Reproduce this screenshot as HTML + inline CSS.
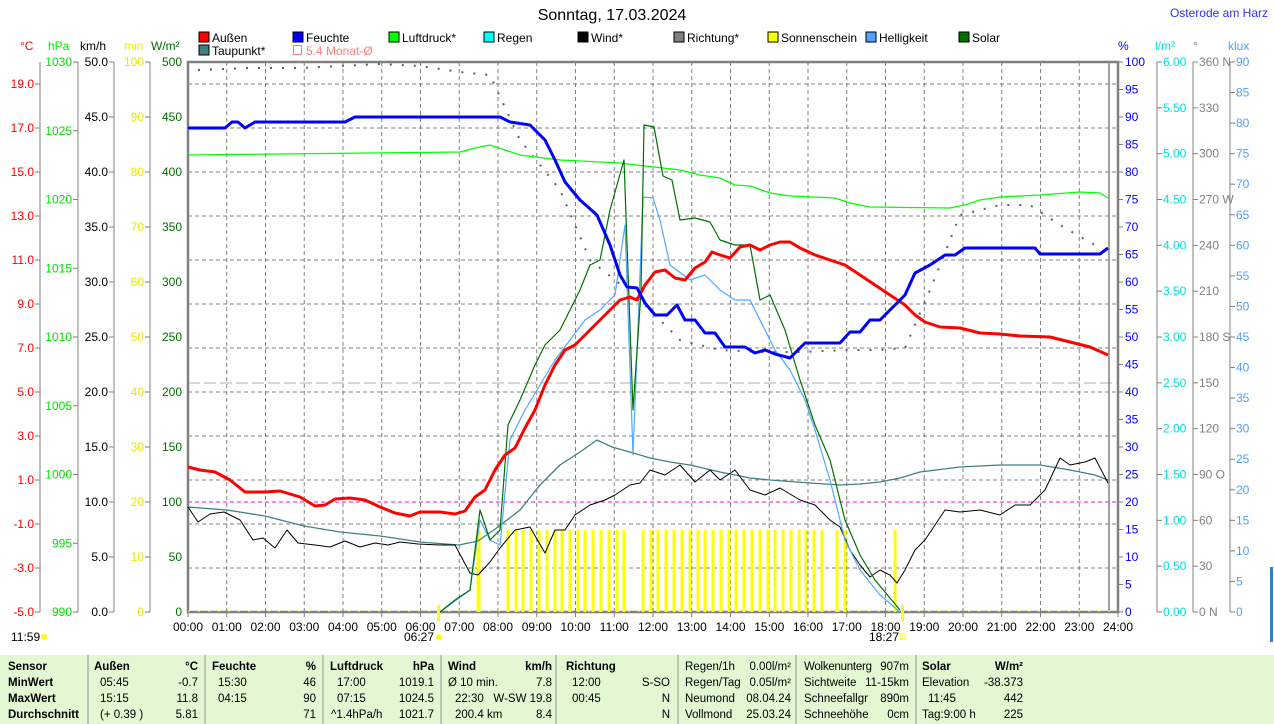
<!DOCTYPE html>
<html><head><meta charset="utf-8"><style>
html,body{margin:0;padding:0;background:#fff;width:1274px;height:724px;overflow:hidden}
svg{display:block;font-family:"Liberation Sans",sans-serif}
</style></head><body>
<svg id="s" width="1274" height="724" xmlns="http://www.w3.org/2000/svg">
<rect x="0" y="655" width="1274" height="69" fill="#e2f8d2"/>
<g id="g"></g>
<text x="612" y="20" font-size="16" text-anchor="middle" fill="#000">Sonntag, 17.03.2024</text>
<text x="1268" y="17" font-size="12" text-anchor="end" fill="#3030ff">Osterode am Harz</text>
<g font-size="12">
<text x="20" y="50" fill="#ff0000">°C</text><text x="48" y="50" fill="#00ee00">hPa</text><text x="80" y="50" fill="#000">km/h</text><text x="124" y="50" fill="#eeee00">min</text><text x="151" y="50" fill="#007000">W/m²</text>
<text x="1118" y="50" fill="#0000ff">%</text><text x="1155" y="50" fill="#00e0e0">l/m²</text><text x="1193" y="50" fill="#808080">°</text><text x="1228" y="50" fill="#50a0ff">klux</text>
</g>
<g font-size="12" fill="#000">
<rect x="199" y="32" width="10" height="10" fill="#ff0000" stroke="#000"/><text x="212" y="42">Außen</text>
<rect x="293" y="32" width="10" height="10" fill="#0000ff" stroke="#000"/><text x="306" y="42">Feuchte</text>
<rect x="389" y="32" width="10" height="10" fill="#00ff00" stroke="#000"/><text x="402" y="42">Luftdruck*</text>
<rect x="484" y="32" width="10" height="10" fill="#00ffff" stroke="#000"/><text x="497" y="42">Regen</text>
<rect x="578" y="32" width="10" height="10" fill="#000" stroke="#000"/><text x="591" y="42">Wind*</text>
<rect x="674" y="32" width="10" height="10" fill="#808080" stroke="#000"/><text x="687" y="42">Richtung*</text>
<rect x="768" y="32" width="10" height="10" fill="#ffff00" stroke="#000"/><text x="781" y="42">Sonnenschein</text>
<rect x="866" y="32" width="10" height="10" fill="#50a0ff" stroke="#000"/><text x="879" y="42">Helligkeit</text>
<rect x="959" y="32" width="10" height="10" fill="#007000" stroke="#000"/><text x="972" y="42">Solar</text>
<rect x="199" y="45" width="10" height="10" fill="#408080" stroke="#000"/><text x="212" y="55">Taupunkt*</text>
<rect x="293.5" y="45.5" width="8" height="9" fill="none" stroke="#ff8080"/><text x="306" y="55" fill="#ff8080">5.4 Monat-Ø</text>
</g>
</svg>
<script>
const NS="http://www.w3.org/2000/svg",g=document.getElementById('g');
function el(t,a,txt){const e=document.createElementNS(NS,t);for(const k in a)e.setAttribute(k,a[k]);if(txt!==undefined)e.textContent=txt;g.appendChild(e);return e;}
const X0=188,X1=1118,T=62,B=612,hw=(X1-X0)/24;
for(let y=84;y<=568;y+=44)el('line',{x1:X0,x2:X1,y1:y,y2:y,stroke:'#808080','stroke-dasharray':'4,3'});
for(let h=1;h<24;h++){const x=X0+h*hw;el('line',{x1:x,x2:x,y1:T,y2:B,stroke:'#808080','stroke-dasharray':'4,3'});}
el('line',{x1:X0,x2:X1,y1:383,y2:383,stroke:'#b0b0b0','stroke-dasharray':'12,4'});
el('line',{x1:X0,x2:X1,y1:502,y2:502,stroke:'#ff00ff','stroke-dasharray':'4,3'});
el('line',{x1:1109,x2:1109,y1:T,y2:B,stroke:'#808080','stroke-width':1.5});
for(let h=0;h<=24;h++){const x=X0+h*hw;el('line',{x1:x,x2:x,y1:B,y2:B+5,stroke:'#808080'});el('text',{x:x,y:631,'font-size':12,'text-anchor':'middle'},(h<10?'0':'')+h+':00');}
function axis(lx,y0,y1,n,fmt,col){el('line',{x1:lx,x2:lx,y1:y0,y2:y1,stroke:'#808080'});for(let i=0;i<=n;i++){const y=y0+(y1-y0)*i/n;el('line',{x1:lx-5,x2:lx,y1:y,y2:y,stroke:'#808080'});el('text',{x:lx-6,y:y+4,'font-size':12,'text-anchor':'end',fill:col},fmt(i));}}
el('line',{x1:40,x2:40,y1:T,y2:B,stroke:'#808080'});
for(let v=-5;v<=19;v+=2){const y=612-(v+5)*22;el('line',{x1:35,x2:40,y1:y,y2:y,stroke:'#808080'});el('text',{x:34,y:y+4,'font-size':12,'text-anchor':'end',fill:'#ff0000'},v.toFixed(1));}
axis(78,T,B,8,i=>String(1030-5*i),'#00dd00');
axis(114,T,B,10,i=>(50-5*i).toFixed(1),'#000');
axis(150,T,B,10,i=>String(100-10*i),'#e8e800');
for(let i=0;i<=10;i++){const y=T+55*i;el('text',{x:182,y:y+4,'font-size':12,'text-anchor':'end',fill:'#007000'},String(500-50*i));}
function raxis(lx,n,fmt,col){el('line',{x1:lx,x2:lx,y1:T,y2:B,stroke:'#808080'});for(let i=0;i<=n;i++){const y=T+(B-T)*i/n;el('line',{x1:lx,x2:lx+5,y1:y,y2:y,stroke:'#808080'});el('text',{x:lx+6,y:y+4,'font-size':12,fill:col},fmt(i));}}
for(let i=0;i<=20;i++){const y=T+27.5*i;el('line',{x1:X1,x2:X1+5,y1:y,y2:y,stroke:'#808080'});el('text',{x:1125,y:y+4,'font-size':12,fill:'#0000ff'},String(100-5*i));}
raxis(1157,12,i=>(6-0.5*i).toFixed(2),'#00e0e0');
const dir={0:' N',3:' W',6:' S',9:' O',12:' N'};
raxis(1193,12,i=>String(360-30*i)+(dir[i]||''),'#808080');
raxis(1230,18,i=>String(90-5*i),'#50a0ff');
el('rect',{x:X0,y:T,width:X1-X0,height:B-T,fill:'none',stroke:'#808080','stroke-width':2.5});
el('rect',{x:1270,y:567,width:3,height:75,fill:'#3080d0'});
el('line',{x1:X0,x2:X1,y1:B-1,y2:B-1,stroke:'#ffff00','stroke-dasharray':'2,8'});
const bars=[508,516,523,531,539,547,555,562,570,578,585,593,601,609,617,624,643,651,658,666,674,682,690,698,705,713,721,729,736,744,752,760,768,775,783,791,799,806,814,822,837,845];
bars.forEach(x=>el('rect',{x:x-1.5,y:530,width:3,height:82,fill:'#ffff00'}));
el('rect',{x:476.5,y:530,width:4,height:82,fill:'#ffff00'});
el('rect',{x:893.5,y:530,width:3,height:82,fill:'#ffff00'});
el('rect',{x:437,y:605,width:3,height:16,fill:'#ffff00'});
el('rect',{x:901,y:605,width:3,height:16,fill:'#ffff00'});
function pl(pts,col,w,extra){const a={points:pts.map(p=>p.join(',')).join(' '),fill:'none',stroke:col,'stroke-width':w,'stroke-linejoin':'round'};Object.assign(a,extra||{});el('polyline',a);}
pl([[198,70],[250,68],[300,68],[380,64],[420,66],[460,72],[490,75],[520,140],[560,190],[590,260],[640,300],[680,340],[720,350],[760,352],[800,352],[850,350],[880,350],[905,348],[930,290],[960,215],[1000,205],[1030,205],[1060,225],[1100,248]],'#606060',2,{'stroke-dasharray':'2,10'});
pl([[188,155],[280,154],[460,152],[475,148],[490,145],[505,150],[520,155],[560,160],[620,163],[680,170],[700,175],[720,178],[735,185],[750,186],[770,193],[790,196],[835,198],[850,203],[870,207],[950,208],[965,205],[980,200],[1000,197],[1040,195],[1080,192],[1100,193],[1108,198]],'#00ff00',1.3);
pl([[188,507],[227,510],[265,516],[304,526],[340,532],[380,536],[420,542],[459,545],[478,541],[498,527],[520,510],[540,485],[560,465],[580,452],[597,440],[612,447],[630,452],[650,458],[670,462],[690,465],[720,472],[750,478],[770,480],[810,483],[840,485],[860,484],[880,482],[900,478],[920,472],[960,467],[1000,465],[1040,465],[1070,470],[1095,475],[1108,480]],'#408080',1.3);
pl([[188,507],[198,522],[210,514],[224,512],[240,520],[253,540],[263,538],[275,548],[287,530],[298,543],[315,545],[330,547],[345,541],[360,547],[375,543],[388,545],[400,542],[418,544],[440,545],[455,545],[470,573],[478,575],[490,562],[500,548],[515,530],[530,527],[545,553],[555,530],[565,530],[575,515],[590,505],[605,500],[615,495],[630,485],[640,483],[650,470],[665,475],[680,465],[695,482],[710,470],[720,480],[735,470],[750,490],[765,495],[780,488],[800,500],[815,505],[830,520],[840,527],[850,550],[860,565],[870,577],[880,570],[890,575],[897,583],[905,570],[915,550],[925,540],[935,525],[945,510],[960,512],[980,510],[1000,515],[1015,505],[1030,505],[1045,490],[1060,458],[1070,465],[1085,462],[1095,458],[1108,483]],'#000',1);
pl([[440,612],[470,590],[480,520],[490,540],[500,545],[510,440],[525,410],[540,385],[555,360],[570,340],[585,320],[600,310],[615,295],[625,225],[633,455],[643,197],[653,198],[660,220],[670,265],[690,280],[705,275],[720,290],[735,300],[750,300],[765,330],[775,350],[790,370],[805,400],[815,430],[830,480],[845,540],[860,570],[880,595],[900,612]],'#50a8ff',1.2);
pl([[440,612],[455,600],[470,590],[480,510],[490,540],[500,530],[508,425],[520,400],[535,365],[545,345],[560,330],[570,310],[580,290],[590,265],[600,260],[610,210],[624,160],[633,410],[641,292],[644,125],[654,127],[663,176],[672,180],[680,220],[695,218],[710,222],[720,240],[735,245],[750,245],[760,300],[770,295],[785,330],[800,380],[815,425],[830,460],[845,520],[860,555],[875,580],[890,598],[900,610]],'#007000',1.2);
pl([[188,467],[200,470],[215,472],[230,480],[245,492],[265,492],[280,491],[300,497],[315,506],[325,505],[335,499],[350,498],[365,500],[380,507],[395,513],[410,516],[420,512],[440,512],[455,514],[465,511],[475,497],[485,490],[495,470],[505,455],[515,448],[525,428],[535,410],[545,385],[555,365],[565,350],[575,345],[590,330],[605,315],[620,300],[630,297],[637,300],[645,285],[655,272],[665,270],[675,278],[685,280],[695,268],[705,262],[712,252],[720,255],[730,258],[740,247],[750,245],[760,250],[770,245],[780,242],[790,242],[800,248],[815,255],[830,260],[845,265],[860,275],[875,285],[890,295],[905,305],[915,315],[925,322],[940,327],[960,328],[980,333],[1000,334],[1020,336],[1050,337],[1070,342],[1090,347],[1108,355]],'#ff0000',3);
pl([[188,128],[225,128],[232,122],[238,122],[245,128],[255,122],[345,122],[355,117],[500,117],[510,122],[530,125],[545,140],[555,160],[565,182],[580,200],[597,215],[610,245],[620,275],[627,287],[637,288],[645,303],[655,315],[667,315],[677,305],[685,320],[695,320],[705,333],[715,333],[725,347],[745,347],[755,353],[765,350],[775,354],[790,358],[805,343],[840,343],[850,332],[860,332],[870,320],[880,320],[895,305],[905,295],[915,273],[930,265],[945,255],[955,255],[965,248],[1035,248],[1040,254],[1100,254],[1108,248]],'#0000ff',3);
el('text',{x:11,y:641,'font-size':12},'11:59');el('circle',{cx:44,cy:637,r:3,fill:'#ffff00'});
el('text',{x:404,y:641,'font-size':12},'06:27');el('circle',{cx:439,cy:637,r:3,fill:'#ffff00'});
el('text',{x:869,y:641,'font-size':12},'18:27');el('rect',{x:900,y:634,width:5,height:5,fill:'none',stroke:'#ffff00'});
[88,205,323,441,556,678,796,916].forEach(x=>el('line',{x1:x,x2:x,y1:655,y2:724,stroke:'#909090'}));
function t(x,y,s,opt){const a={x:x,y:y,'font-size':11.5};Object.assign(a,opt||{});el('text',a,s);}
const R={'text-anchor':'end'},Bo={'font-weight':'bold'},BR={'font-weight':'bold','text-anchor':'end'};
const ys=[670,686,702,718];
t(8,ys[0],'Sensor',Bo);t(8,ys[1],'MinWert',Bo);t(8,ys[2],'MaxWert',Bo);t(8,ys[3],'Durchschnitt',Bo);
t(94,ys[0],'Außen',Bo);t(198,ys[0],'°C',BR);t(100,ys[1],'05:45');t(198,ys[1],'-0.7',R);t(100,ys[2],'15:15');t(198,ys[2],'11.8',R);t(100,ys[3],'(+ 0.39 )');t(198,ys[3],'5.81',R);
t(212,ys[0],'Feuchte',Bo);t(316,ys[0],'%',BR);t(218,ys[1],'15:30');t(316,ys[1],'46',R);t(218,ys[2],'04:15');t(316,ys[2],'90',R);t(316,ys[3],'71',R);
t(330,ys[0],'Luftdruck',Bo);t(434,ys[0],'hPa',BR);t(337,ys[1],'17:00');t(434,ys[1],'1019.1',R);t(337,ys[2],'07:15');t(434,ys[2],'1024.5',R);t(331,ys[3],'^1.4hPa/h');t(434,ys[3],'1021.7',R);
t(448,ys[0],'Wind',Bo);t(552,ys[0],'km/h',BR);t(448,ys[1],'Ø 10 min.');t(552,ys[1],'7.8',R);t(455,ys[2],'22:30');t(552,ys[2],'W-SW 19.8',R);t(455,ys[3],'200.4 km');t(552,ys[3],'8.4',R);
t(566,ys[0],'Richtung',Bo);t(572,ys[1],'12:00');t(670,ys[1],'S-SO',R);t(572,ys[2],'00:45');t(670,ys[2],'N',R);t(670,ys[3],'N',R);
t(685,ys[0],'Regen/1h');t(791,ys[0],'0.00l/m²',R);t(685,ys[1],'Regen/Tag');t(791,ys[1],'0.05l/m²',R);t(685,ys[2],'Neumond');t(791,ys[2],'08.04.24',R);t(685,ys[3],'Vollmond');t(791,ys[3],'25.03.24',R);
t(804,ys[0],'Wolkenunterg',{textLength:68});t(909,ys[0],'907m',R);t(804,ys[1],'Sichtweite');t(909,ys[1],'11-15km',R);t(804,ys[2],'Schneefallgr');t(909,ys[2],'890m',R);t(804,ys[3],'Schneehöhe');t(909,ys[3],'0cm',R);
t(922,ys[0],'Solar',Bo);t(1023,ys[0],'W/m²',BR);t(922,ys[1],'Elevation');t(1023,ys[1],'-38.373',R);t(928,ys[2],'11:45');t(1023,ys[2],'442',R);t(922,ys[3],'Tag:9:00 h');t(1023,ys[3],'225',R);
</script>
</body></html>
